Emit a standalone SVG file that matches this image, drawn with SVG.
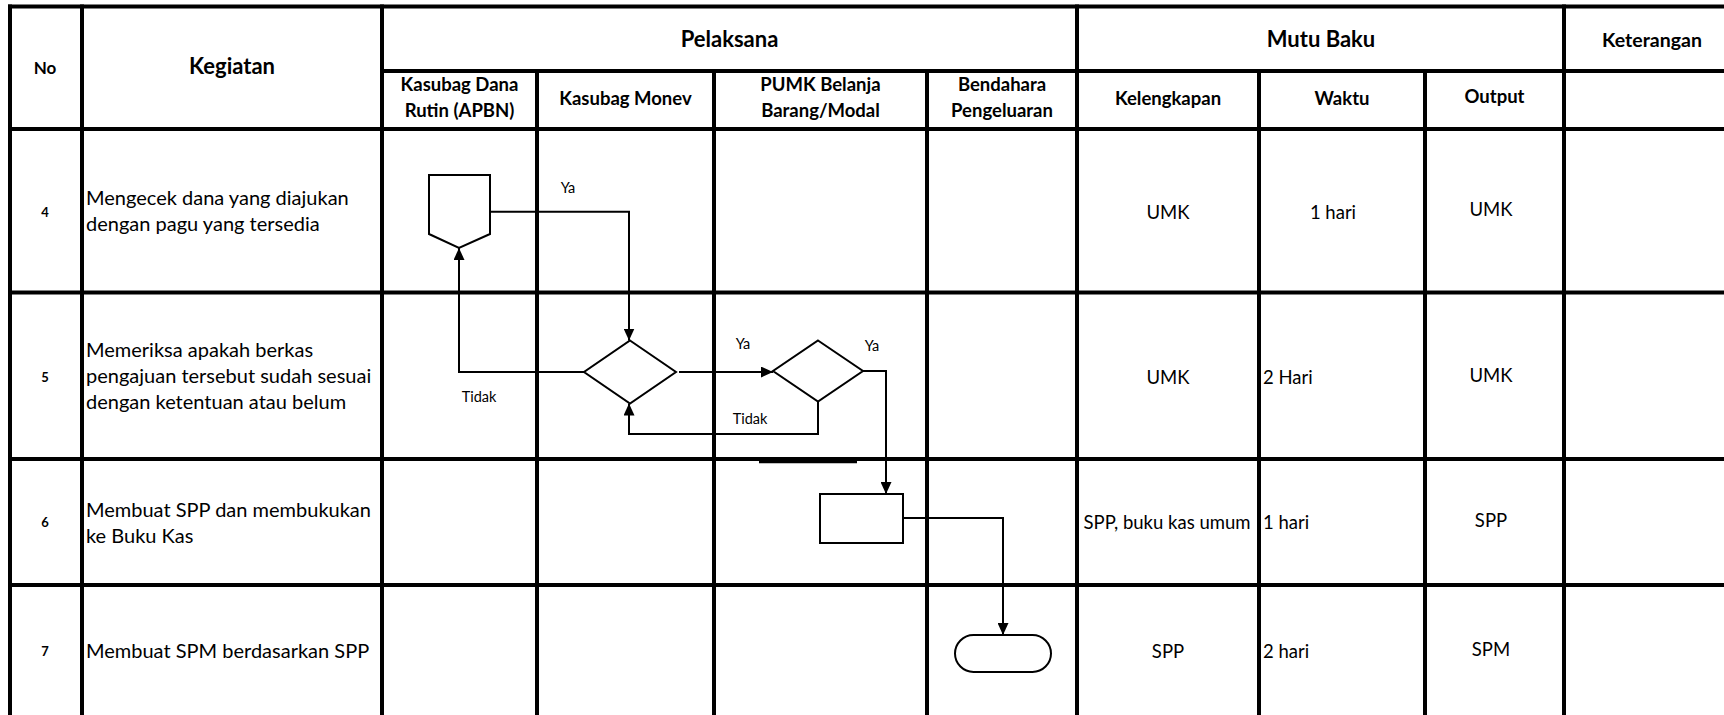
<svg xmlns="http://www.w3.org/2000/svg" width="1724" height="715" viewBox="0 0 1724 715">
<style>
.grid line{stroke:#000;stroke-width:4;stroke-linecap:square}
.h1{font-family:Lato,"Liberation Sans",sans-serif;font-weight:bold;font-size:22px;text-anchor:middle;fill:#000}
.h2{font-family:Lato,"Liberation Sans",sans-serif;font-weight:bold;font-size:18.5px;text-anchor:middle;fill:#000}
.no{font-family:Lato,"Liberation Sans",sans-serif;font-weight:bold;font-size:13px;text-anchor:middle;fill:#000}
.keg{font-family:Lato,"Liberation Sans",sans-serif;font-size:20px;fill:#000}
.mb{font-family:Lato,"Liberation Sans",sans-serif;font-size:18.5px;fill:#000}
.c{text-anchor:middle}
.lbl{font-family:Lato,"Liberation Sans",sans-serif;font-size:14.5px;text-anchor:middle;fill:#000}
.shape{fill:#fff;stroke:#000;stroke-width:2}
.conn{fill:none;stroke:#000;stroke-width:2}
</style>
<defs>
<marker id="arr" markerUnits="userSpaceOnUse" markerWidth="12" markerHeight="11" refX="12" refY="5.5" orient="auto">
<path d="M0,0 L12,5.5 L0,11 z" fill="#000"/>
</marker>
</defs>
<rect width="1724" height="715" fill="#fff"/>
<g id="table" class="grid">
<line x1="10" y1="6.6" x2="1724" y2="6.6"/>
<line x1="382" y1="71" x2="1724" y2="71"/>
<line x1="10" y1="129" x2="1724" y2="129"/>
<line x1="10" y1="292.5" x2="1724" y2="292.5"/>
<line x1="10" y1="459" x2="1724" y2="459"/>
<line x1="10" y1="585" x2="1724" y2="585"/>
<line x1="10" y1="6.6" x2="10" y2="717"/>
<line x1="82" y1="6.6" x2="82" y2="717"/>
<line x1="382" y1="6.6" x2="382" y2="717"/>
<line x1="537" y1="71" x2="537" y2="717"/>
<line x1="714" y1="71" x2="714" y2="717"/>
<line x1="927" y1="71" x2="927" y2="717"/>
<line x1="1077" y1="6.6" x2="1077" y2="717"/>
<line x1="1259" y1="71" x2="1259" y2="717"/>
<line x1="1425" y1="71" x2="1425" y2="717"/>
<line x1="1564" y1="6.6" x2="1564" y2="717"/>
</g>
<g id="headers">
<text class="h2" x="45" y="74" style="font-size:17px">No</text>
<text class="h1" x="232" y="74">Kegiatan</text>
<text class="h1" x="729.5" y="47">Pelaksana</text>
<text class="h1" x="1321" y="47">Mutu Baku</text>
<text class="h1" x="1652" y="47" style="font-size:19.5px">Keterangan</text>
<text class="h2" x="459.5" y="91">Kasubag Dana</text>
<text class="h2" x="459.5" y="117">Rutin (APBN)</text>
<text class="h2" x="625.5" y="105">Kasubag Monev</text>
<text class="h2" x="820.5" y="91">PUMK Belanja</text>
<text class="h2" x="820.5" y="117">Barang/Modal</text>
<text class="h2" x="1002" y="91">Bendahara</text>
<text class="h2" x="1002" y="117">Pengeluaran</text>
<text class="h2" x="1168" y="105">Kelengkapan</text>
<text class="h2" x="1342" y="105">Waktu</text>
<text class="h2" x="1494.5" y="103">Output</text>
</g>
<g id="row4">
<text class="no" x="45" y="217">4</text>
<text class="keg" x="86" y="205">Mengecek dana yang diajukan</text>
<text class="keg" x="86" y="231">dengan pagu yang tersedia</text>
<text class="mb c" x="1168" y="219">UMK</text>
<text class="mb c" x="1333" y="219">1 hari</text>
<text class="mb c" x="1491" y="216">UMK</text>
</g>
<g id="row5">
<text class="no" x="45" y="382">5</text>
<text class="keg" x="86" y="357">Memeriksa apakah berkas</text>
<text class="keg" x="86" y="383">pengajuan tersebut sudah sesuai</text>
<text class="keg" x="86" y="409">dengan ketentuan atau belum</text>
<text class="mb c" x="1168" y="384">UMK</text>
<text class="mb" x="1263" y="384">2 Hari</text>
<text class="mb c" x="1491" y="382">UMK</text>
</g>
<g id="row6">
<text class="no" x="45" y="527">6</text>
<text class="keg" x="86" y="517">Membuat SPP dan membukukan</text>
<text class="keg" x="86" y="543">ke Buku Kas</text>
<text class="mb c" x="1167" y="529">SPP, buku kas umum</text>
<text class="mb" x="1263" y="529">1 hari</text>
<text class="mb c" x="1491" y="527">SPP</text>
</g>
<g id="row7">
<text class="no" x="45" y="656">7</text>
<text class="keg" x="86" y="658">Membuat SPM berdasarkan SPP</text>
<text class="mb c" x="1168" y="658">SPP</text>
<text class="mb" x="1263" y="658">2 hari</text>
<text class="mb c" x="1491" y="656">SPM</text>
</g>
<g id="connectors">
<polyline class="conn" points="490,211.7 629,211.7 629,340.5" marker-end="url(#arr)"/>
<polyline class="conn" points="584,372 459,372 459,248" marker-end="url(#arr)"/>
<line class="conn" x1="679" y1="372" x2="773" y2="372" marker-end="url(#arr)"/>
<polyline class="conn" points="818,401.5 818,434 629,434 629,403.5" marker-end="url(#arr)"/>
<polyline class="conn" points="863,371 886,371 886,494" marker-end="url(#arr)"/>
<polyline class="conn" points="903,518 1003,518 1003,635" marker-end="url(#arr)"/>
<text class="lbl" x="568" y="193">Ya</text>
<text class="lbl" x="479" y="402">Tidak</text>
<text class="lbl" x="743" y="349">Ya</text>
<text class="lbl" x="872" y="351">Ya</text>
<text class="lbl" x="750" y="424">Tidak</text>
</g>
<g id="offpage">
<polygon class="shape" points="429,175 490,175 490,234 459,248 429,234"/>
</g>
<g id="decision1">
<polygon class="shape" points="630,340.5 676,372 630,403.5 584,372"/>
</g>
<g id="decision2">
<polygon class="shape" points="818,340.5 863,371 818,401.5 773,371"/>
</g>
<g id="process">
<rect class="shape" x="820" y="494" width="83" height="49"/>
</g>
<g id="terminator">
<rect class="shape" x="955" y="635" width="96" height="37" rx="18.5"/>
</g>
<line x1="759" y1="462" x2="857" y2="462" stroke="#000" stroke-width="2.5"/>
</svg>
